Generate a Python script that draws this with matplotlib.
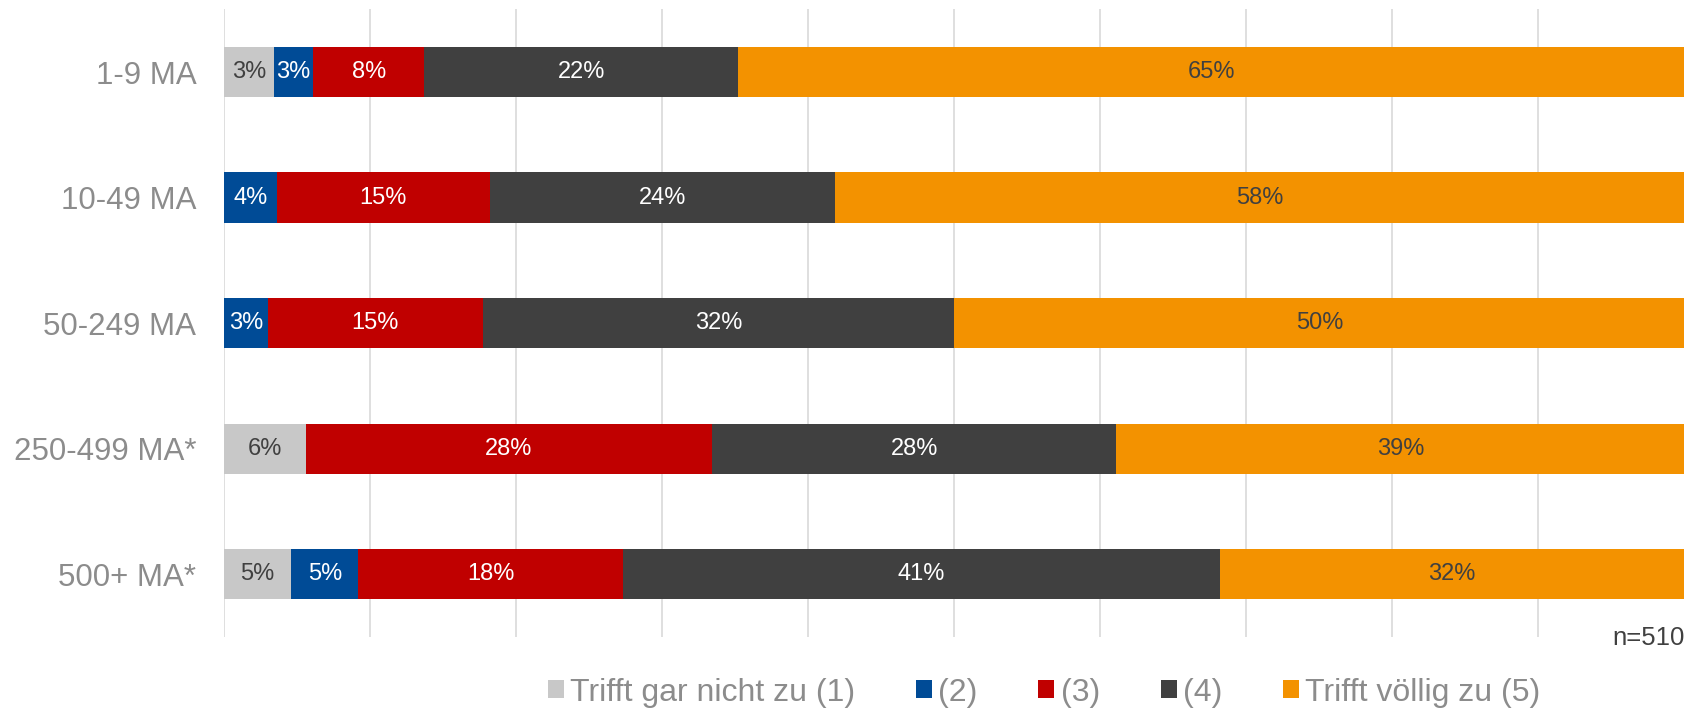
import matplotlib.pyplot as plt
import numpy as np

plt.rcParams['font.family'] = ['Liberation Sans', 'DejaVu Sans']

# Kategorien (Unternehmensgröße)
kategorien = ["1-9 MA", "10-49 MA", "50-249 MA", "250-499 MA*", "500+ MA*"]

# Anteile in % je Antwortstufe
stufe1 = [3.4, 0.0, 0.0, 5.6, 4.6]
stufe2 = [2.7, 3.6, 3.0, 0.0, 4.6]
stufe3 = [7.6, 14.6, 14.7, 27.8, 18.1]
stufe4 = [21.5, 23.6, 32.3, 27.7, 40.9]
stufe5 = [64.8, 58.2, 50.0, 38.9, 31.8]

legende = ["Trifft gar nicht zu (1)", "(2)", "(3)", "(4)", "Trifft völlig zu (5)"]
farben = ["#C8C8C8", "#004B96", "#C00000", "#404040", "#F39200"]
textfarben = ["#404040", "white", "white", "white", "#404040"]

fig = plt.figure(figsize=(16.98, 7.11), dpi=100)
ax = fig.add_axes([0.132, 0.104, 0.860, 0.883])

y = np.arange(len(kategorien))
links = np.zeros(len(kategorien))
for werte, name, farbe, tf in zip([stufe1, stufe2, stufe3, stufe4, stufe5], legende, farben, textfarben):
    werte = np.array(werte)
    bars = ax.barh(y, werte, left=links, height=0.4, color=farbe, label=name, zorder=3)
    for b, w in zip(bars, werte):
        if w > 0:
            ax.text(b.get_x() + b.get_width() / 2, b.get_y() + b.get_height() / 2,
                    f"{w:.0f}%", ha="center", va="center", color=tf, fontsize=17, zorder=4)
    links += werte

ax.set_xlim(0, 100)
ax.set_ylim(4.5, -0.5)
ax.set_xticks(range(0, 100, 10))
ax.set_xticklabels([])
ax.set_yticks(y)
ax.set_yticklabels(kategorien, fontsize=22.5, color="#8C8C8C")
ax.tick_params(axis="both", length=0, pad=20)
ax.grid(axis="x", color="#D9D9D9", linewidth=1.2, zorder=0)
for s in ax.spines.values():
    s.set_visible(False)

ax.text(1.0, -0.002, "n=510", transform=ax.transAxes, ha="right", va="center",
        fontsize=18.5, color="#404040")

leg = fig.legend(loc="center", bbox_to_anchor=(0.615, 0.026), ncol=5, frameon=False,
                 fontsize=23, handlelength=0.5, handleheight=0.5, handletextpad=0.2,
                 columnspacing=1.9, borderpad=0)
for t in leg.get_texts():
    t.set_color("#8C8C8C")

fig.savefig("out.png", dpi=100)
